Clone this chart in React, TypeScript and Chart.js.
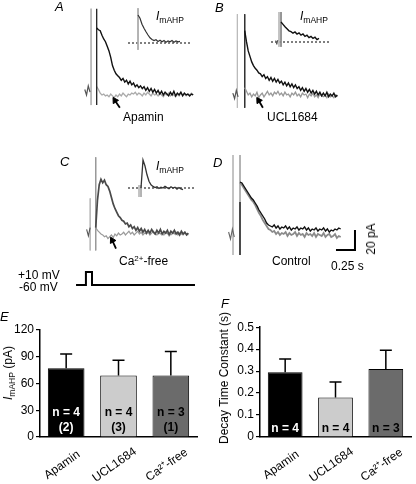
import React, { useEffect, useRef } from "react";
import { Chart, registerables } from "chart.js";

Chart.register(...registerables);

const FONT = "'Liberation Sans', Arial, Helvetica, sans-serif";
Chart.defaults.font.family = FONT;
Chart.defaults.color = "#000";

// ---------------- data ----------------
const DT = 0.025; // s per sample (main traces)
const DT_INSET = 0.05; // s per sample (insets)

// Panel A (Apamin)
const A_PRE = [3, -3, 7, 0];
const A_CTRL = [70, 68, 67, 62, 58, 55, 50, 45, 38, 29, 24, 20, 18, 16, 13, 15, 11, 13, 9, 12, 8, 10, 6, 8, 5, 7, 4, 6, 2, 5, 1, 4, 0, 3, -1, 2, -2, 1, -3, 0, -2, -4, 0, -3, 1, -4, -1, -3, 0, -4, -1, -3, -2, -4, -2, -3];
const A_DRUG = [6, 3, -1, -3, -2, -4, -3, -5, -2, -4, -6, -3, -5, -2, -4, -1, -3, -5, -2, -3, -1, -2, 0, -3, -1, -2, -4, -1, -3, 0, -2, -4, -1, -3, -2, -4, -1, -3, -5, -2, -3, -1, -4, -2, -3, -5, -2, -4, -1, -3, -2, -4, -2, -3, -1, -3];
const A_INSET = [70, 62, 47, 37, 28, 20, 13, 9, 6, 8, 4, 7, 3, 6, 2, 5, 3, 6, 2, 5, 3, 4];

// Panel B (UCL1684)
const B_PRE = [2, -4, 5, -2];
const B_CTRL = [70, 58, 48, 42, 36, 32, 29, 27, 24, 23, 20, 22, 18, 20, 16, 19, 15, 18, 14, 17, 13, 15, 11, 14, 10, 13, 9, 12, 8, 11, 7, 9, 5, 8, 4, 7, 3, 6, 2, 5, 1, 4, 0, 3, -1, 2, -1, 3, -2, 1, -1, 2, -2, 0];
const B_DRUG = [8, 4, 0, 2, -2, 1, -1, 3, -3, 0, 2, -2, 1, 4, 0, 2, -1, 3, 1, 4, 0, 2, -1, 3, 0, 1, -2, 2, 0, 3, -1, 1, -2, 2, 0, 1, -3, 1, -1, 2, -2, 0, -3, 1, -1, -2, 0, -3, 1, -2, -1, -3, 0, -2];
const B_INSET_PRE = [4, -6, 5];
const B_INSET = [50, 44, 38, 33, 28, 26, 22, 25, 20, 23, 17, 20, 14, 17, 11, 14, 9, 12, 6, 9];

// Panel C (Ca2+-free)
const C_PRE = [3, -4, 5];
const C_CTRL = [5, 35, 52, 58, 54, 57, 52, 50, 45, 38, 31, 26, 22, 18, 16, 13, 12, 9, 10, 6, 8, 4, 6, 2, 5, 1, 4, 0, 3, -1, 2, -1, 3, 0, -2, 2, -1, 3, -2, 1, -1, 2, -3, 1, -1, 2, -2, 0, -3, 1, -2, 0, -3, -1];
const C_DRUG = [5, 2, 0, -2, -3, -5, -4, -7, -5, -3, -6, -2, -4, -1, -3, -2, 0, -3, -1, 1, -2, 0, -3, -1, 1, -2, 0, -3, -1, -2, 0, -3, -1, 1, -2, -3, 0, -2, -1, -3, 0, -2, -1, -3, -1, -2, 0, -3, -1, -2, -3, -1, -2, -3];
const C_INSET = [0, 70, 55, 33, 17, 8, 4, 1, 3, -1, 2, 0, 4, 1, -2, 3, 0, 2, -3, 1, -2, -4];

// Panel D (Control)
const D_PRE = [3, -4, 6, -2];
const D_CTRL = [53, 52, 49, 46, 43, 40, 37, 35, 32, 29, 25, 22, 19, 16, 12, 10, 9, 8, 10, 7, 9, 6, 8, 7, 9, 6, 8, 5, 7, 6, 8, 5, 7, 6, 8, 5, 7, 4, 6, 5, 7, 4, 6, 5, 7, 4, 6, 3, 5, 4, 6, 5, 7, 6];
const D_SECOND = [52, 50, 47, 44, 41, 38, 35, 33, 30, 26, 22, 19, 15, 12, 9, 6, 5, 3, 4, 1, 3, 0, 2, 1, 3, -1, 2, 0, 1, 3, -1, 2, 0, 1, -2, 2, 0, 1, -1, 2, -2, 1, 0, -1, 2, -2, 0, 1, -2, -1, 1, -3, -1, -2];

// Voltage protocol
const V_STEP_T = [-0.21, -0.08, -0.08, 0, 0, 1.355];
const V_STEP_MV = [-60, -60, 10, 10, -60, -60];

// Scale bar
const SCALE_PA = 20;
const SCALE_S = 0.25;

// Bar charts
const BAR_CATEGORIES = ["Apamin", "UCL1684", "Ca\u00B2\u207A-free"];
const AMP_MEAN = [77, 69, 69];
const AMP_SEM = [16, 17, 27];
const AMP_N = ["n = 4", "n = 4", "n = 3"];
const AMP_CELLS = ["(2)", "(3)", "(1)"];
const TAU_MEAN = [0.295, 0.18, 0.31];
const TAU_SEM = [0.06, 0.07, 0.085];
const TAU_N = ["n = 4", "n = 4", "n = 3"];
const BAR_COLORS = ["#000000", "#cccccc", "#6b6b6b"];
const N_TEXT_COLORS = ["#ffffff", "#000000", "#000000"];

// ---------------- layout constants ----------------
const PX_PER_S = 76;
const PX_PER_PA = 1;
const INSET_PX_PER_S = 40;
const INSET_PX_PER_PA = 0.4;

type Pt = { x: number; y: number };
const series = (vals: number[], t0: number, dt: number): Pt[] => vals.map((v, i) => ({ x: t0 + i * dt, y: v }));
const pair = (ts: number[], vs: number[]): Pt[] => ts.map((t, i) => ({ x: t, y: vs[i] }));

const trace = (data: Pt[], color: string, width = 1.1, extra: any = {}) => ({
  data,
  borderColor: color,
  borderWidth: width,
  pointRadius: 0,
  fill: false,
  tension: 0,
  ...extra,
});
const vline = (t: number, range: number[], color: string, width = 1) => trace(pair([t, t], range), color, width);
const arrow = (ts: number[], vs: number[], rot: number) => ({
  data: pair(ts, vs),
  borderColor: "#000",
  borderWidth: 1.8,
  pointRadius: [0, 3.6],
  pointStyle: "triangle",
  pointRotation: rot,
  pointBackgroundColor: "#000",
  pointBorderColor: "#000",
  pointBorderWidth: 1,
  fill: false,
  tension: 0,
});

type Box = { left: number; top: number; width: number; height: number };

function TraceChart(props: { box: Box; x0: number; y0: number; sx: number; sy: number; datasets: any[] }) {
  const ref = useRef<HTMLCanvasElement>(null);
  const { box, x0, y0, sx, sy, datasets } = props;
  useEffect(() => {
    const chart = new Chart(ref.current as HTMLCanvasElement, {
      type: "line",
      data: { datasets },
      options: {
        animation: false,
        responsive: false,
        devicePixelRatio: 1,
        events: [],
        layout: { padding: 0 },
        plugins: { legend: { display: false }, tooltip: { enabled: false } },
        scales: {
          x: { type: "linear", display: false, min: (box.left - x0) / sx, max: (box.left + box.width - x0) / sx },
          y: { type: "linear", display: false, min: (y0 - box.top - box.height) / sy, max: (y0 - box.top) / sy },
        },
      },
    } as any);
    return () => chart.destroy();
  }, []);
  return (
    <canvas
      ref={ref}
      width={box.width}
      height={box.height}
      style={{ position: "absolute", left: box.left, top: box.top, width: box.width, height: box.height }}
    />
  );
}

function BarPanel(props: {
  box: Box;
  axisLeft: number;
  areaTop: number;
  areaBottom: number;
  areaRight: number;
  yMax: number;
  yStep: number;
  means: number[];
  sems: number[];
  nLabels: string[];
  nValue: number;
  subLabels?: string[];
  subValue?: number;
  barPct: number;
}) {
  const ref = useRef<HTMLCanvasElement>(null);
  const p = props;
  useEffect(() => {
    const extras = {
      id: "extras",
      afterDatasetsDraw(chart: any) {
        const ctx = chart.ctx;
        const meta = chart.getDatasetMeta(0);
        const ys = chart.scales.y;
        const xs = chart.scales.x;
        ctx.save();
        ctx.strokeStyle = "#000";
        ctx.lineWidth = 1.5;
        meta.data.forEach((el: any, i: number) => {
          const top = ys.getPixelForValue(p.means[i] + p.sems[i]);
          ctx.beginPath();
          ctx.moveTo(el.x, el.y);
          ctx.lineTo(el.x, top);
          ctx.moveTo(el.x - 6, top);
          ctx.lineTo(el.x + 6, top);
          ctx.stroke();
          ctx.fillStyle = N_TEXT_COLORS[i];
          ctx.font = "bold 12px " + FONT;
          ctx.textAlign = "center";
          ctx.textBaseline = "middle";
          ctx.fillText(p.nLabels[i], el.x, ys.getPixelForValue(p.nValue));
          if (p.subLabels && p.subValue !== undefined) {
            ctx.fillText(p.subLabels[i], el.x, ys.getPixelForValue(p.subValue));
          }
        });
        // rotated category labels, centred under each bar
        ctx.fillStyle = "#000";
        ctx.font = "12px " + FONT;
        ctx.textAlign = "center";
        ctx.textBaseline = "middle";
        BAR_CATEGORIES.forEach((lab, i) => {
          ctx.save();
          ctx.translate(xs.getPixelForTick(i) - 4, chart.chartArea.bottom + 28);
          ctx.rotate((-35 * Math.PI) / 180);
          ctx.fillText(lab, 0, 0);
          ctx.restore();
        });
        ctx.restore();
      },
    };
    const chart = new Chart(ref.current as HTMLCanvasElement, {
      type: "bar",
      data: {
        labels: BAR_CATEGORIES,
        datasets: [
          {
            data: p.means,
            backgroundColor: BAR_COLORS,
            borderColor: "#000",
            borderWidth: 1,
            borderSkipped: "bottom",
            barPercentage: p.barPct,
            categoryPercentage: 1,
          },
        ],
      },
      options: {
        animation: false,
        responsive: false,
        devicePixelRatio: 1,
        events: [],
        layout: {
          padding: { top: p.areaTop - p.box.top, right: p.box.left + p.box.width - p.areaRight, left: 0, bottom: 0 },
        },
        plugins: { legend: { display: false }, tooltip: { enabled: false } },
        scales: {
          x: {
            grid: { display: false },
            border: { display: true, color: "#000", width: 1.5 },
            ticks: { display: false },
            afterFit: (s: any) => {
              s.height = p.box.top + p.box.height - p.areaBottom;
            },
          },
          y: {
            min: 0,
            max: p.yMax,
            ticks: { stepSize: p.yStep, font: { size: 12 }, color: "#000", padding: 2 },
            grid: { drawOnChartArea: false, drawTicks: true, tickLength: 4, color: "#000", lineWidth: 1.2 },
            border: { display: true, color: "#000", width: 1.5 },
            afterFit: (s: any) => {
              s.width = p.axisLeft - p.box.left;
            },
          },
        },
      },
      plugins: [extras],
    } as any);
    return () => chart.destroy();
  }, []);
  return (
    <canvas
      ref={ref}
      width={p.box.width}
      height={p.box.height}
      style={{ position: "absolute", left: p.box.left, top: p.box.top, width: p.box.width, height: p.box.height }}
    />
  );
}

const txt = (left: number, top: number, size = 12, extra: React.CSSProperties = {}): React.CSSProperties => ({
  position: "absolute",
  left,
  top,
  fontSize: size,
  lineHeight: 1,
  fontFamily: FONT,
  whiteSpace: "nowrap",
  color: "#000",
  ...extra,
});
const rot = (cx: number, cy: number, size = 12): React.CSSProperties => ({
  position: "absolute",
  left: cx,
  top: cy,
  fontSize: size,
  lineHeight: 1,
  fontFamily: FONT,
  whiteSpace: "nowrap",
  color: "#000",
  transform: "translate(-50%, -50%) rotate(-90deg)",
});

function IMahp(props: { left: number; top: number }) {
  return (
    <div style={txt(props.left, props.top, 12)}>
      <i>I</i>
      <span style={{ fontSize: 8.5, position: "relative", top: 3 }}>mAHP</span>
    </div>
  );
}

export default function App() {
  const dotted = { borderDash: [2, 2] };

  const panelA = [
    arrow([0.33, 0.26], [-17, -9], -32),
    trace(series(A_CTRL, 0, DT), "#111", 1.4),
    vline(0, [91, -14], "#222", 1.3),
    trace(series(A_DRUG, 0, DT), "#aaa", 1.3),
    trace(series(A_PRE, -0.17, DT), "#555", 1.2),
    vline(-0.08, [91, -14], "#b5b5b5", 1),
  ];
  const insetA = [
    trace(series(A_INSET, 0, DT_INSET), "#333", 1.2),
    vline(0, [87, -17], "#aaa", 1),
    trace(pair([-0.25, 1.3], [0, 0]), "#000", 1, dotted),
  ];

  const panelB = [
    arrow([0.26, 0.2], [-14, -6], -32),
    trace(series(B_CTRL, 0, DT), "#111", 1.4),
    trace(series(B_DRUG, 0, DT), "#999", 1.3),
    vline(0, [88, -14], "#333", 1),
    trace(series(B_PRE, -0.17, DT), "#555", 1.2),
    vline(-0.105, [88, -14], "#bbb", 1),
  ];
  const insetB = [
    trace(series(B_INSET, 0, DT_INSET), "#111", 1.4),
    trace(series(B_INSET_PRE, -0.13, DT), "#555", 1),
    vline(0, [75, -12], "#888", 1),
    vline(-0.05, [75, -12], "#bbb", 1),
    trace(pair([-0.25, 1.25], [0, 0]), "#000", 1, dotted),
  ];

  const panelC = [
    arrow([0.29, 0.237], [-18, -9], -28),
    trace(series(C_CTRL, 0, DT), "#4a4a4a", 1.7),
    trace(series(C_DRUG, 0, DT), "#999", 1.2),
    trace(series(C_PRE, -0.13, DT), "#555", 1.1),
    vline(0, [82, -20], "#999", 1),
    vline(-0.079, [37, -20], "#bbb", 1),
  ];
  const insetC = [
    trace(series(C_INSET, 0, DT_INSET), "#333", 1.3),
    vline(0, [7.5, -22.5], "#aaa", 1),
    vline(-0.05, [7.5, -22.5], "#bbb", 1),
    trace(pair([-0.325, 1.35], [0, 0]), "#000", 1, dotted),
  ];

  const vstep = [trace(pair(V_STEP_T, V_STEP_MV), "#000", 2)];

  const scaleT = 1.513;
  const scaleI = -15;
  const panelD = [
    trace(
      pair([scaleT - SCALE_S, scaleT, scaleT], [scaleI, scaleI, scaleI + SCALE_PA]),
      "#000",
      2
    ),
    trace(series(D_CTRL, 0, DT), "#111", 1.4),
    trace(series(D_SECOND, 0, DT), "#8a8a8a", 1.8),
    vline(0, [33, -20], "#111", 1.5),
    vline(0, [80, 33], "#aaa", 1),
    trace(series(D_PRE, -0.15, DT), "#666", 1.1),
    vline(-0.092, [80, -20], "#bbb", 1),
  ];

  const vsy = 13 / 70;

  return (
    <div style={{ position: "absolute", left: 0, top: 0, width: 416, height: 484, background: "#fff", overflow: "hidden" }}>
      <TraceChart box={{ left: 76, top: 0, width: 130, height: 122 }} x0={93} y0={95} sx={PX_PER_S} sy={PX_PER_PA} datasets={panelA} />
      <TraceChart box={{ left: 124, top: 4, width: 72, height: 50 }} x0={138} y0={43} sx={INSET_PX_PER_S} sy={INSET_PX_PER_PA} datasets={insetA} />
      <TraceChart box={{ left: 225, top: 0, width: 125, height: 122 }} x0={241} y0={98} sx={PX_PER_S} sy={PX_PER_PA} datasets={panelB} />
      <TraceChart box={{ left: 268, top: 6, width: 68, height: 46 }} x0={281} y0={42} sx={INSET_PX_PER_S} sy={INSET_PX_PER_PA} datasets={insetB} />
      <TraceChart box={{ left: 76, top: 145, width: 125, height: 115 }} x0={92} y0={235} sx={PX_PER_S} sy={PX_PER_PA} datasets={panelC} />
      <TraceChart box={{ left: 124, top: 150, width: 74, height: 50 }} x0={141} y0={188} sx={INSET_PX_PER_S} sy={INSET_PX_PER_PA} datasets={insetC} />
      <TraceChart box={{ left: 70, top: 265, width: 130, height: 25 }} x0={92} y0={285 - 60 * vsy} sx={PX_PER_S} sy={vsy} datasets={vstep} />
      <TraceChart box={{ left: 225, top: 145, width: 140, height: 115 }} x0={240} y0={235} sx={PX_PER_S} sy={PX_PER_PA} datasets={panelD} />

      <BarPanel
        box={{ left: 0, top: 318, width: 205, height: 166 }}
        axisLeft={40}
        areaTop={330}
        areaBottom={437}
        areaRight={197}
        yMax={120}
        yStep={30}
        means={AMP_MEAN}
        sems={AMP_SEM}
        nLabels={AMP_N}
        nValue={27}
        subLabels={AMP_CELLS}
        subValue={11}
        barPct={0.7}
      />
      <BarPanel
        box={{ left: 212, top: 318, width: 204, height: 166 }}
        axisLeft={260}
        areaTop={327}
        areaBottom={437}
        areaRight={411}
        yMax={0.5}
        yStep={0.1}
        means={TAU_MEAN}
        sems={TAU_SEM}
        nLabels={TAU_N}
        nValue={0.04}
        barPct={0.69}
      />

      {/* panel letters */}
      <div style={txt(55, 0, 13, { fontStyle: "italic" })}>A</div>
      <div style={txt(215, 1, 13, { fontStyle: "italic" })}>B</div>
      <div style={txt(60, 155, 13, { fontStyle: "italic" })}>C</div>
      <div style={txt(213, 156, 13, { fontStyle: "italic" })}>D</div>
      <div style={txt(0, 310, 13, { fontStyle: "italic" })}>E</div>
      <div style={txt(221, 297, 13, { fontStyle: "italic" })}>F</div>

      <IMahp left={156} top={10} />
      <IMahp left={300} top={10} />
      <IMahp left={156} top={160} />

      <div style={txt(123, 111)}>Apamin</div>
      <div style={txt(267, 111)}>UCL1684</div>
      <div style={txt(119, 255)}>
        Ca<sup style={{ fontSize: 8, verticalAlign: "top", lineHeight: 1 }}>2+</sup>-free
      </div>
      <div style={txt(272, 255)}>Control</div>
      <div style={txt(331, 260)}>0.25 s</div>
      <div style={rot(371, 239, 12)}>20 pA</div>
      <div style={txt(18, 269)}>+10 mV</div>
      <div style={txt(19, 281)}>-60 mV</div>

      <div style={rot(8, 373, 12)}>
        <i>I</i>
        <span style={{ fontSize: 8.5, position: "relative", top: 3 }}>mAHP</span> (pA)
      </div>
      <div style={rot(224, 378, 12)}>Decay Time Constant (s)</div>
    </div>
  );
}
